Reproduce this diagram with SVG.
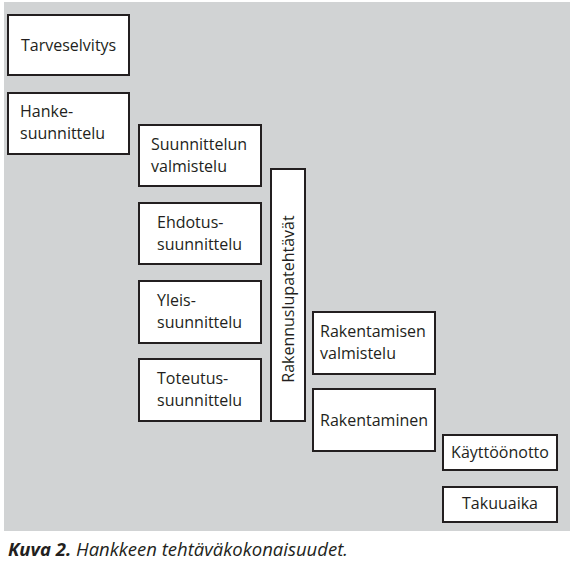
<svg xmlns="http://www.w3.org/2000/svg" width="573" height="566" viewBox="0 0 573 566">
<style>
.bx{fill:#fff;stroke:#231f20;stroke-width:2}
.t{font-family:"Open Sans","Noto Sans","Liberation Sans",sans-serif;font-size:16px;fill:#231f20}
.c{font-family:"Open Sans","Noto Sans","Liberation Sans",sans-serif;font-size:18.5px;fill:#231f20;font-style:italic}
</style>
<rect x="0" y="0" width="573" height="566" fill="#fff"/>
<rect x="4" y="2" width="566" height="529" fill="#d1d3d4"/>
<g id="tarveselvitys"><rect class="bx" x="8" y="15" width="121" height="60"/><text class="t" x="21" y="51">Tarveselvitys</text></g>
<g id="hankesuunnittelu"><rect class="bx" x="8" y="93" width="121" height="61"/><text class="t" x="20" y="117">Hanke-</text><text class="t" x="20" y="139">suunnittelu</text></g>
<g id="suunnittelun-valmistelu"><rect class="bx" x="139" y="125" width="122" height="61"/><text class="t" x="151" y="150">Suunnittelun</text><text class="t" x="151" y="172">valmistelu</text></g>
<g id="ehdotussuunnittelu"><rect class="bx" x="139" y="203" width="122" height="61"/><text class="t" x="157" y="228">Ehdotus-</text><text class="t" x="157" y="250">suunnittelu</text></g>
<g id="yleissuunnittelu"><rect class="bx" x="139" y="281" width="122" height="62"/><text class="t" x="157" y="306">Yleis-</text><text class="t" x="157" y="328">suunnittelu</text></g>
<g id="toteutussuunnittelu"><rect class="bx" x="139" y="359" width="122" height="62"/><text class="t" x="157" y="384">Toteutus-</text><text class="t" x="157" y="406">suunnittelu</text></g>
<g id="rakennuslupatehtavat"><rect class="bx" x="271" y="169" width="34" height="252"/><text class="t" transform="translate(294 299) rotate(-90)" text-anchor="middle">Rakennuslupatehtävät</text></g>
<g id="rakentamisen-valmistelu"><rect class="bx" x="313" y="312" width="122" height="62"/><text class="t" x="320" y="337">Rakentamisen</text><text class="t" x="320" y="359">valmistelu</text></g>
<g id="rakentaminen"><rect class="bx" x="313" y="389" width="122" height="62"/><text class="t" x="320" y="426">Rakentaminen</text></g>
<g id="kayttoonotto"><rect class="bx" x="443" y="435" width="114" height="35"/><text class="t" x="500" y="458" text-anchor="middle">Käyttöönotto</text></g>
<g id="takuuaika"><rect class="bx" x="443" y="487" width="114" height="35"/><text class="t" x="500" y="509" text-anchor="middle">Takuuaika</text></g>
<g id="connectors"/>
<text class="c" x="8" y="556"><tspan font-weight="bold">Kuva 2.</tspan> Hankkeen tehtäväkokonaisuudet.</text>
</svg>
